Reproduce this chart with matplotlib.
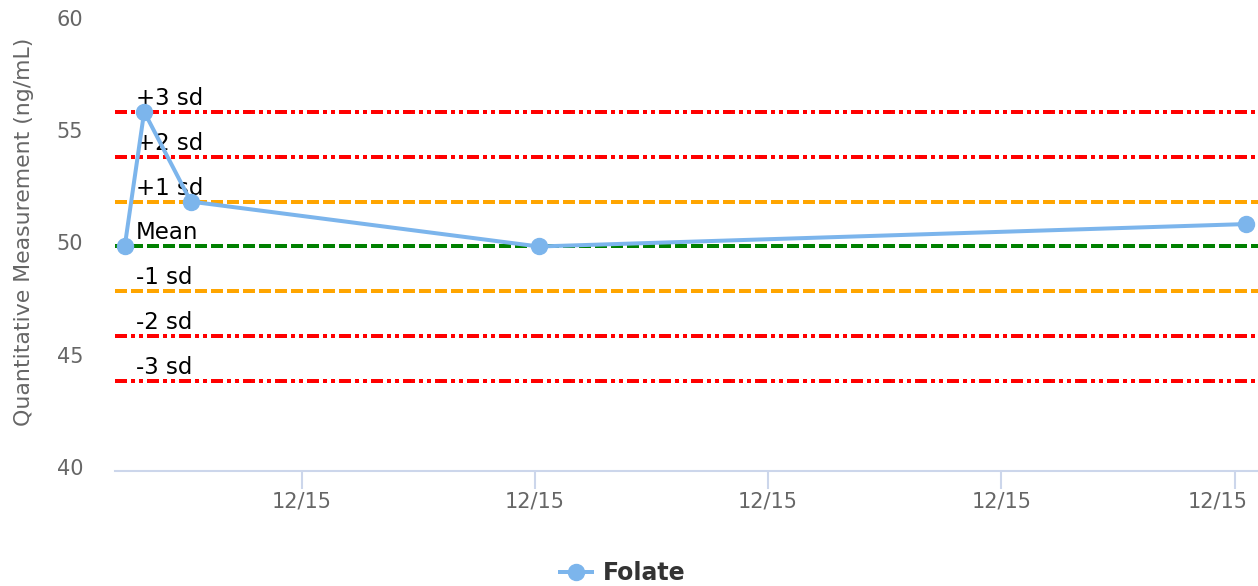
import matplotlib
matplotlib.use("AGG")
import matplotlib.pyplot as plt
import matplotlib.dates as mdates
import matplotlib.transforms as mtransforms
import pandas as pd

# data
times = ["2023-12-15 06:29", "2023-12-15 06:39", "2023-12-15 07:03",
         "2023-12-15 10:02", "2023-12-15 16:06"]
values = [50, 56, 52, 50, 51]
series_name = "Folate"

mean = 50
sd = 2
limit_labels = ["+3 sd", "+2 sd", "+1 sd", "Mean", "-1 sd", "-2 sd", "-3 sd"]
limit_offsets = [3, 2, 1, 0, -1, -2, -3]

x_range = ["2023-12-15 06:24", "2023-12-15 16:12"]

plt.rcParams["lines.scale_dashes"] = False

fig = plt.figure(figsize=(12.58, 5.86), dpi=100)
ax = fig.add_axes([115 / 1258, 1 - 471 / 586, 1 - 115 / 1258, (471 - 22) / 586])

px = 0.72  # one pixel in points
red_style = (0, (12 * px, 4 * px, 4 * px, 4 * px, 4 * px, 4 * px))
dash_style = (0, (12 * px, 4 * px))
styles = {3: ("red", red_style), 2: ("red", red_style), 1: ("orange", dash_style),
          0: ("green", dash_style)}

for lab, k in zip(limit_labels, limit_offsets):
    color, ls = styles[abs(k)]
    yv = mean + k * sd
    ax.axhline(yv, color=color, linestyle=ls, linewidth=4 * px, zorder=2)
    ax.annotate(lab, xy=(0, yv), xycoords=("axes fraction", "data"),
                xytext=(21, 7), textcoords="offset pixels",
                ha="left", va="baseline", fontsize=16.5, color="black", zorder=3)

t = pd.to_datetime(times)
ax.plot(t, values, color="#7cb5ec", linewidth=4 * px, marker="o",
        markersize=16 * px, label=series_name, zorder=5, clip_on=False)

ax.set_ylim(40, 60)
ax.set_yticks([40, 45, 50, 55, 60])
ax.set_xlim(pd.to_datetime(x_range[0]), pd.to_datetime(x_range[1]))
ax.xaxis.set_major_locator(mdates.HourLocator(byhour=range(8, 17, 2)))
ax.xaxis.set_major_formatter(mdates.DateFormatter("%m/%d"))

for s in ["top", "right", "left"]:
    ax.spines[s].set_visible(False)
ax.spines["bottom"].set_color("#ccd6eb")
ax.spines["bottom"].set_linewidth(1.5)

ax.tick_params(axis="y", length=0, pad=23, labelsize=15, labelcolor="#666666")
ax.tick_params(axis="x", length=13, width=1.5, color="#ccd6eb", pad=2,
               labelsize=15, labelcolor="#666666")

ax.set_ylabel("Quantitative Measurement (ng/mL)", fontsize=15.8, color="#666666")
ax.yaxis.set_label_coords(-81 / 1143, 0.5 + 15 / 449)

# nudge labels the way the original chart places them
fig.canvas.draw()
up = mtransforms.ScaledTranslation(0, 0.04, fig.dpi_scale_trans)
for lbl in ax.get_yticklabels():
    lbl.set_transform(lbl.get_transform() + up)
last = ax.get_xticklabels()[-1]
last.set_transform(last.get_transform() +
                   mtransforms.ScaledTranslation(-0.17, 0, fig.dpi_scale_trans))

leg = fig.legend(loc="center", bbox_to_anchor=(0.495, 1 - 573 / 586), frameon=False,
                 handlelength=1.35, handletextpad=0.47,
                 prop={"weight": "bold", "size": 17})
for txt in leg.get_texts():
    txt.set_color("#333333")

fig.savefig("out.png", dpi=100)
